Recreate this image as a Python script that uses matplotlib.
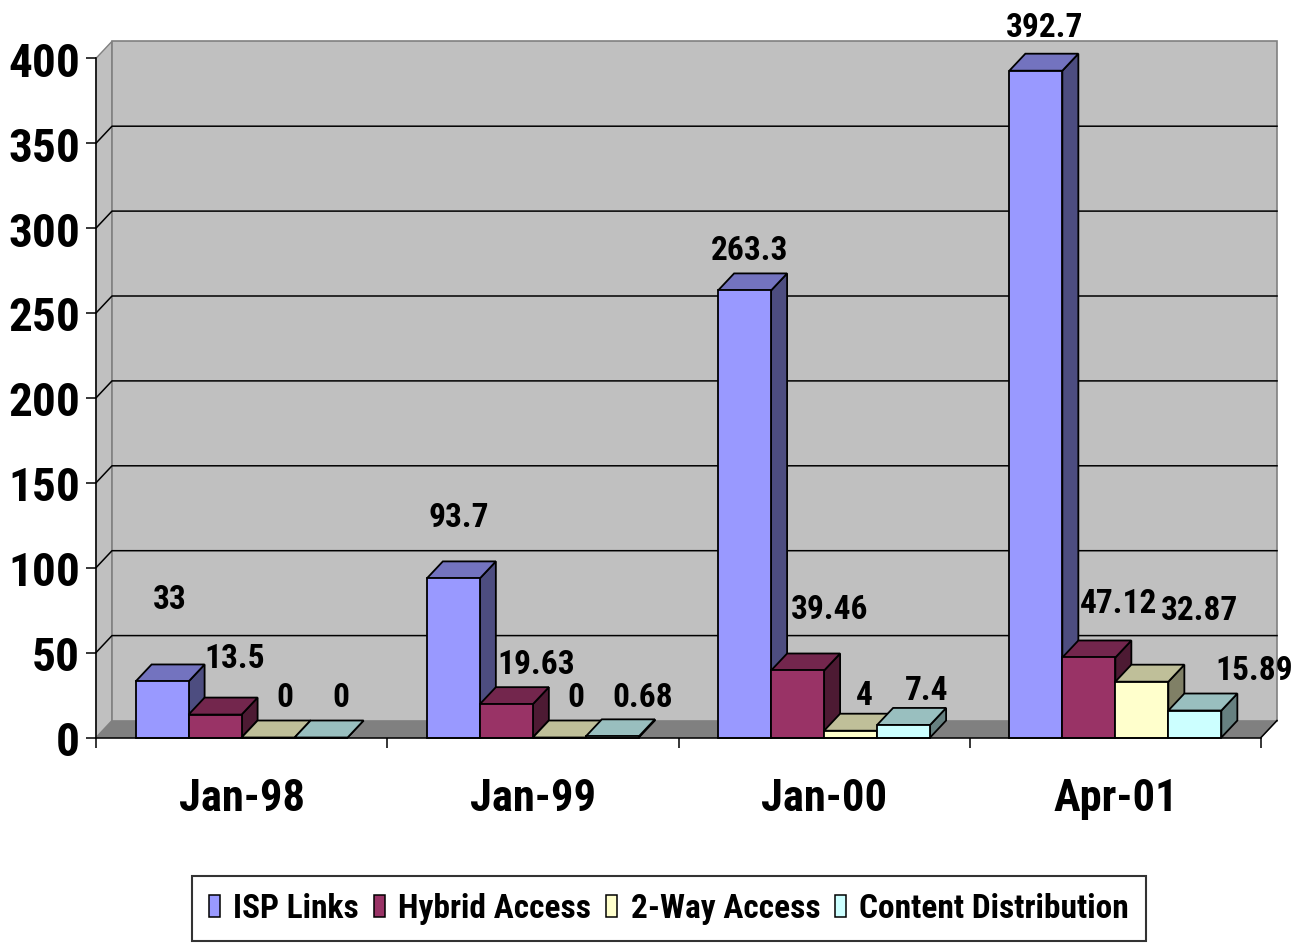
#!/usr/bin/env python

import matplotlib
matplotlib.use('Agg')
import matplotlib.pyplot as plt
from matplotlib import font_manager
from matplotlib.patches import Polygon, Patch

categories = ['Jan-98', 'Jan-99', 'Jan-00', 'Apr-01']
series_names = ['ISP Links', 'Hybrid Access', '2-Way Access', 'Content Distribution']
isp_links = [33, 93.7, 263.3, 392.7]
hybrid_access = [13.5, 19.63, 39.46, 47.12]
two_way_access = [0, 0, 4, 32.87]
content_distribution = [0, 0.68, 7.4, 15.89]
value_labels = [['33', '93.7', '263.3', '392.7'],
                ['13.5', '19.63', '39.46', '47.12'],
                ['0', '0', '4', '32.87'],
                ['0', '0.68', '7.4', '15.89']]
y_ticks = [0, 50, 100, 150, 200, 250, 300, 350, 400]

# face colours: front, top, side
front_colors = ['#9999FF', '#993366', '#FFFFCC', '#CCFFFF']
top_colors = ['#7373BF', '#73264D', '#BFBF99', '#99BFBF']
side_colors = ['#4D4D80', '#4D1A33', '#808066', '#668080']

# label placement in pixels (x nudge, lift above front top edge), per series / category
label_dx = [[0, -3, -3, 1], [12, 22, 24, 22], [9, 9, 6, 50], [12, 22, 15, 51]]
label_lift = [[86, 65, 44, 47], [60, 44, 65, 58], [44, 44, 39, 75], [44, 43, 38, 44]]

W, H = 1294, 945
PX_CAT = 291.25          # pixels per category
PX_VAL = 679.2 / 400.0   # pixels per unit
DX = 16 / PX_CAT         # depth offset in data units
DY = 17 / PX_VAL
GAP = 39.6 / PX_CAT
BW = 53 / PX_CAT


def pick_font():
    # the original uses a narrow bold face; find something condensed if we can
    entries = font_manager.fontManager.ttflist
    names = set(f.name for f in entries)
    for name in ['Liberation Sans Narrow', 'Arial Narrow', 'Roboto Condensed',
                 'Open Sans Condensed', 'Noto Sans Condensed', 'DejaVu Sans Condensed']:
        if name in names:
            return name, 'normal', 1.0
    for f in entries:
        if str(f.stretch) in ('condensed', 'semi-condensed', 'extra-condensed') \
                and f.weight in (600, 700, 'bold', 'semibold') and 'Sans' in f.name \
                and 'Mono' not in f.name and 'CJK' not in f.name:
            return f.name, str(f.stretch), 1.0
    return 'Liberation Sans', 'normal', 0.8


def poly(ax, pts, fc, ec='black', lw=1.3, z=3):
    p = Polygon(pts, closed=True, facecolor=fc, edgecolor=ec, linewidth=lw,
                joinstyle='miter', clip_on=False, zorder=z)
    ax.add_patch(p)


def draw_walls(ax):
    n = len(categories)
    top = y_ticks[-1]
    poly(ax, [(0, 0), (n, 0), (n + DX, DY), (DX, DY)], '#808080', '#808080', 1.0, 1)
    poly(ax, [(0, 0), (DX, DY), (DX, top + DY), (0, top)], '#C0C0C0', '#808080', 1.0, 1)
    poly(ax, [(DX, DY), (n + DX, DY), (n + DX, top + DY), (DX, top + DY)],
         '#C0C0C0', '#808080', 1.2, 1)
    for v in y_ticks[1:-1]:
        ax.plot([0, DX, n + DX], [v, v + DY, v + DY], color='black', lw=1.1,
                clip_on=False, zorder=2)
    ax.plot([n, n + DX], [0, DY], color='black', lw=1.1, clip_on=False, zorder=2)


def draw_bar(ax, x, v, j):
    poly(ax, [(x + BW, 0), (x + BW + DX, DY), (x + BW + DX, v + DY), (x + BW, v)], side_colors[j])
    poly(ax, [(x, v), (x + BW, v), (x + BW + DX, v + DY), (x + DX, v + DY)], top_colors[j])
    poly(ax, [(x, 0), (x + BW, 0), (x + BW, v), (x, v)], front_colors[j])


def main():
    family, stretch, k = pick_font()
    plt.rcParams['font.family'] = [family, 'Liberation Sans', 'DejaVu Sans']
    plt.rcParams['font.stretch'] = stretch
    plt.rcParams['font.weight'] = 'bold'

    fig = plt.figure(figsize=(W / 100.0, H / 100.0), dpi=100)
    ax = fig.add_axes([96.0 / W, (H - 738.5) / H, 4 * PX_CAT / W, 679.2 / H])
    ax.set_xlim(0, len(categories))
    ax.set_ylim(0, y_ticks[-1])
    ax.patch.set_visible(False)
    for s in ['top', 'right']:
        ax.spines[s].set_visible(False)
    ax.spines['left'].set_linewidth(1.1)
    ax.spines['bottom'].set_linewidth(1.1)
    ax.spines['left'].set_zorder(4)
    ax.spines['bottom'].set_zorder(4)

    ax.set_yticks(y_ticks)
    ax.set_yticklabels([str(t) for t in y_ticks], fontsize=34 * k, fontweight='bold')
    ax.tick_params(axis='y', direction='out', length=7.2, width=1.1, pad=4.3)
    ax.set_xticks(range(len(categories) + 1))
    ax.set_xticklabels([])
    ax.tick_params(axis='x', direction='out', length=7.2, width=1.1)

    draw_walls(ax)

    data = [isp_links, hybrid_access, two_way_access, content_distribution]
    for i in range(len(categories)):
        for j in range(len(data)):
            x = i + GAP + j * BW
            v = data[j][i]
            draw_bar(ax, x, v, j)
            ax.annotate(value_labels[j][i], xy=(x + BW / 2 + DX / 2, v),
                        xytext=(label_dx[j][i], label_lift[j][i] - 12.5),
                        textcoords='offset pixels', ha='center', va='baseline',
                        fontsize=24 * k, fontweight='bold', annotation_clip=False, zorder=6)
        ax.annotate(categories[i], xy=(i + 0.5, 0), xytext=(0, -73),
                    textcoords='offset pixels', ha='center', va='baseline',
                    fontsize=32 * k, fontweight='bold', annotation_clip=False)

    handles = [Patch(facecolor=c, edgecolor='black', linewidth=1.1) for c in front_colors]
    leg = fig.legend(handles, series_names, loc='center', ncol=4,
                     bbox_to_anchor=(669.0 / W, 1 - 909.5 / H),
                     prop={'size': 24 * k, 'weight': 'bold'},
                     handlelength=0.33 / k, handleheight=0.66 / k, handletextpad=0.4 / k,
                     columnspacing=0.45 / k, borderpad=0.5 / k, fancybox=False,
                     frameon=True, borderaxespad=0)
    leg.get_frame().set_edgecolor('black')
    leg.get_frame().set_linewidth(1.5)

    fig.savefig('out.png', dpi=100)
    plt.close(fig)


if __name__ == '__main__':
    main()
